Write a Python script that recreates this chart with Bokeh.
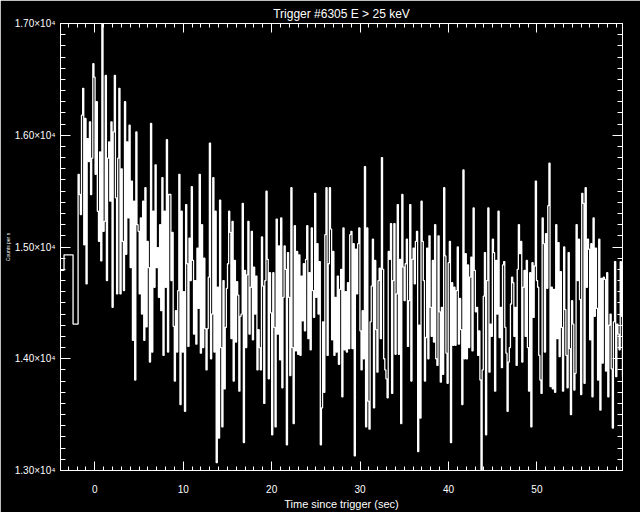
from bokeh.plotting import figure
from bokeh.models import LinearAxis, SingleIntervalTicker, Range1d
from bokeh.embed import file_html
from bokeh.resources import INLINE

# ---- data ----
title_text = "Trigger #6305 E > 25 keV"
x_title = "Time since trigger (sec)"
y_title = "Counts per s"

# pre-trigger 1.024 s bins (left edges) and rates
pre_edges = [-3.88, -3.48, -2.46]
pre_rates = [14790, 14930, 14310]

# fine time-resolution data
fine_start = -1.89
fine_dt = 0.128
rates_a = [15650, 15470, 15290, 16180, 16420, 15020, 16150, 14670, 15970, 15765,
           16120, 15470, 15795, 16640, 16520, 15650, 16300, 15320, 15050, 15850,
           14875, 17050, 15140, 15230, 16535, 14700, 15795, 15940, 15410, 16120,
           14460, 16030, 16535, 15440, 14580, 15795, 16420, 14580, 15700, 15050,
           14610, 16300, 14935, 15940, 15260, 16090, 14815, 15590, 14165, 15410,
           13810, 16030, 15200, 15140, 14580, 15260, 14400, 15410, 14165, 15530,
           14285, 15050, 14815, 13970, 16105, 14060, 15320, 14640, 15735, 14815,
           14995, 14550, 15200, 14430, 15620, 14030, 15320, 14640, 15960, 14060,
           15470]
rates_b = [15470, 14700, 15130, 14290, 13800, 14430, 14060, 14610, 15650, 13590,
           15320, 14060, 14600, 13530, 15380, 14850, 14110, 15080, 14700, 15540,
           14880, 14220, 14700, 14130, 14990, 14450, 15650, 14050, 15200, 14100,
           14900, 14270, 13900, 14270, 14730, 15930, 14000, 14400, 15620, 14060,
           15320, 13070, 14640, 13290, 15420, 14100, 13390, 14700, 13730, 14280,
           14630, 14850, 15320, 15130, 14180, 15230, 13800, 14880, 14150, 14690,
           14570, 13710, 14380, 14400, 15390, 13250, 14790, 14100, 14750, 15230,
           14220, 14640, 15140, 14170, 14820, 14400, 14740, 13900, 14260, 14100,
           13900, 15090, 14650]
rates_c = [13600, 14700, 15500, 14890, 13820, 14770, 14410, 13320, 14770, 14280,
           13390, 15250, 14220, 15010, 13990, 15260, 13740, 14550, 15010, 14800,
           13230, 14950, 14550, 13850, 15530, 14100, 13420, 15190, 14070, 14960,
           14040, 14930, 14030, 14740, 14340, 14850, 14250, 14890, 15190, 14180,
           14770, 14080, 15170, 14610, 14370, 15480, 14550, 15030, 14400, 14870,
           13230, 13560, 14330, 13700, 15110, 15530, 14030, 14850, 15530, 15160,
           14170, 14960, 14030, 14550, 14060, 14740, 13950, 14620, 14800, 13660,
           15170, 14080, 14600, 14060, 14680, 14090, 15110, 15140, 14090, 15030,
           13130, 14980]
rates_d = [14580, 15030, 15170, 14250, 13900, 14430, 14000, 15720, 13390, 15170,
           13620, 13370, 14330, 14650, 15070, 13560, 14880, 14260, 13880, 14700,
           14810, 14180, 15800, 14800, 14000, 13900, 13820, 13650, 14960, 14890,
           15210, 13690, 14700, 15210, 14040, 14580, 15380, 14040, 14890, 13420,
           15470, 14820, 14520, 14850, 15070, 14110, 14520, 15380, 13800, 14890,
           14990, 14670, 15050, 15140, 13170, 14300, 13470, 15410, 15050, 14700,
           13800, 14190, 14990, 14000, 15100, 14460, 14200, 14880, 14150, 15200,
           14000, 13940, 15100, 14420, 13790, 14460, 13860, 15530, 14920, 14050,
           13780, 14860]
rates_e = [15050, 13250, 14680, 14120, 14640, 14120, 14610, 15000, 14130, 14540,
           14260, 13590, 15690, 14000, 14940, 14000, 14840, 14100, 14730, 14910,
           14070, 15350, 14790, 14420, 14460, 14030, 14250, 13810, 12950, 13900,
           14560, 14950, 13320, 14700, 15350, 13880, 14310, 14200, 15070, 14950,
           13710, 14880, 14400, 15320, 14190, 14460, 13920, 14840, 14870, 14280,
           14050, 13530, 13970, 14100, 14490, 14730, 14680, 14200, 14460, 13940,
           14800, 15200, 14940, 15050, 13970, 14640, 14790, 14200, 14880, 14100,
           13710, 14770, 13390, 14860, 14370, 14830, 15590, 14700, 14640, 14030,
           13810, 13690, 15260]
rates_f = [15030, 14060, 15120, 14630, 15370, 15750, 13750, 14640, 13730, 14620,
           13700, 15200, 14180, 15040, 14020, 14780, 14280, 13710, 15000, 14440,
           14030, 13740, 14950, 14090, 13500, 14520, 14310, 13720, 13870, 15200,
           14700, 15070, 14530, 13680, 15480, 15390, 13780, 15530, 14640, 15070,
           14980, 14170, 15030, 13660, 15260, 14380, 14990, 14450, 13810, 15070,
           13540, 14720, 13960, 14730, 14710, 13890, 14770, 13660, 14300, 14400,
           13910, 13380, 14330, 14870, 13840, 14310, 14220, 14080, 14870, 14380,
           13840]

y_ticks = [13000, 14000, 15000, 16000, 17000]
y_tick_labels = ["1.30×10⁴", "1.40×10⁴", "1.50×10⁴", "1.60×10⁴", "1.70×10⁴"]

# ---- build step arrays ----
fine = rates_a + rates_b + rates_c + rates_d + rates_e + rates_f
xs = list(pre_edges) + [fine_start + i * fine_dt for i in range(len(fine))]
ys = list(pre_rates) + fine
xs.append(fine_start + len(fine) * fine_dt)
ys.append(fine[-1])

FONT = "Liberation Sans"

p = figure(width=640, height=512, output_backend="svg", toolbar_location=None,
           x_range=Range1d(-3.88, 59.68), y_range=Range1d(13000, 17000),
           title=title_text, min_border_left=60, min_border_right=18,
           min_border_top=23, min_border_bottom=40)
p.background_fill_color = "black"
p.border_fill_color = "black"
p.outline_line_color = "white"
p.grid.visible = False

p.title.align = "center"
p.title.text_color = "white"
p.title.text_font = FONT
p.title.text_font_style = "normal"
p.title.text_font_size = "12px"
p.title.standoff = 6

p.step(xs, ys, mode="after", line_color="white", line_width=1.3)


def style_axis(ax, labels=True, tick_len=10, minor_len=5):
    ax.axis_line_color = "white"
    ax.major_tick_line_color = "white"
    ax.minor_tick_line_color = "white"
    ax.major_tick_in = tick_len
    ax.major_tick_out = 0
    ax.minor_tick_in = minor_len
    ax.minor_tick_out = 0
    ax.major_label_text_font = FONT
    ax.axis_label_text_color = "white"
    ax.axis_label_text_font = FONT
    ax.axis_label_text_font_style = "normal"
    if labels:
        ax.major_label_text_color = "white"
        ax.major_label_text_font_size = "10px"
    else:
        ax.major_label_text_color = None
        ax.major_label_text_font_size = "1px"
        ax.major_label_standoff = 0


xb = p.xaxis[0]
xb.ticker = SingleIntervalTicker(interval=10, num_minor_ticks=10)
style_axis(xb, tick_len=9, minor_len=4)
xb.major_label_standoff = 14
xb.axis_label = x_title
xb.axis_label_text_font_size = "11px"
xb.axis_label_standoff = 2

yl = p.yaxis[0]
yl.ticker = SingleIntervalTicker(interval=1000, num_minor_ticks=10)
style_axis(yl, tick_len=10, minor_len=5)
yl.major_label_overrides = dict(zip(y_ticks, y_tick_labels))
yl.major_label_standoff = 5
yl.axis_label = y_title
yl.axis_label_text_font_size = "5px"
yl.axis_label_standoff = 1

top = LinearAxis(ticker=SingleIntervalTicker(interval=10, num_minor_ticks=10))
style_axis(top, labels=False, tick_len=9, minor_len=4)
p.add_layout(top, "above")

right = LinearAxis(ticker=SingleIntervalTicker(interval=1000, num_minor_ticks=10))
style_axis(right, labels=False, tick_len=10, minor_len=5)
p.add_layout(right, "right")

html = file_html(p, INLINE)
html = html.replace("<body>", '<body style="background-color:black;">', 1)
open("out.html", "w").write(html)
